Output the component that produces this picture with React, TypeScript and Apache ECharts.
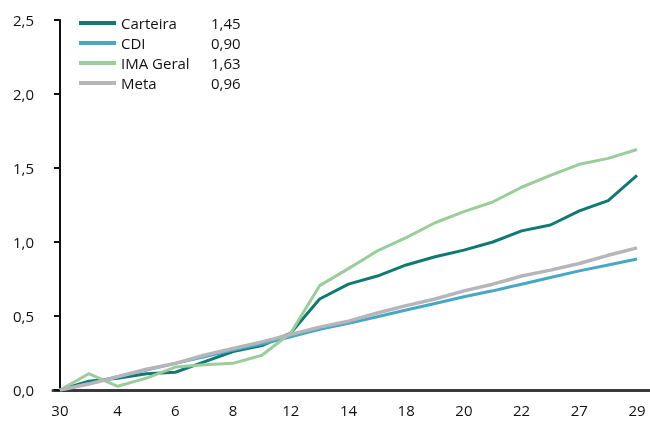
import React, { useEffect, useRef } from "react";
import * as echarts from "echarts";

const categories = ["30", "1", "4", "5", "6", "7", "8", "11", "12", "13", "14", "15", "18", "19", "20", "21", "22", "26", "27", "28", "29"];
const seriesNames = ["Carteira", "CDI", "IMA Geral", "Meta"];
const legendValues = ["1,45", "0,90", "1,63", "0,96"];
const colors = ["#0f7a72", "#46a8c4", "#9bcd9b", "#b5b5ba"];

const carteira = [0, 0.06, 0.08, 0.11, 0.12, 0.19, 0.26, 0.30, 0.385, 0.615, 0.715, 0.77, 0.845, 0.90, 0.945, 1.0, 1.075, 1.115, 1.21, 1.28, 1.45];
const cdi = [0, 0.045, 0.09, 0.135, 0.18, 0.225, 0.27, 0.31, 0.36, 0.41, 0.45, 0.495, 0.54, 0.585, 0.63, 0.67, 0.715, 0.76, 0.805, 0.845, 0.885];
const imaGeral = [0, 0.11, 0.025, 0.08, 0.155, 0.17, 0.18, 0.235, 0.385, 0.705, 0.82, 0.94, 1.03, 1.13, 1.205, 1.27, 1.37, 1.45, 1.525, 1.565, 1.625];
const meta = [0, 0.04, 0.09, 0.14, 0.18, 0.235, 0.28, 0.325, 0.375, 0.425, 0.465, 0.52, 0.57, 0.615, 0.67, 0.715, 0.77, 0.81, 0.855, 0.91, 0.96];

const xLabelIdx = [0, 2, 4, 6, 8, 10, 12, 14, 16, 18, 20];

const FONT = "Open Sans";
const FS = 15;
const TXT = "#111";

export default function App() {
  const ref = useRef<HTMLDivElement>(null);
  useEffect(() => {
    if (!ref.current) return;
    const chart = echarts.init(ref.current, null, { renderer: "svg" });
    const all = [carteira, cdi, imaGeral, meta];
    const widths = [3, 3, 3, 3.5];
    chart.setOption({
      animation: false,
      textStyle: { fontFamily: FONT },
      grid: { left: 53, right: 0, top: 20, bottom: 33, containLabel: false },
      legend: {
        orient: "vertical",
        left: 74,
        top: 8,
        itemWidth: 37,
        itemHeight: 4,
        itemGap: 0,
        icon: "rect",
        data: seriesNames,
        formatter: (name: string) => {
          const i = seriesNames.indexOf(name);
          return `{n|${name}}{v|${legendValues[i]}}`;
        },
        textStyle: {
          fontFamily: FONT,
          fontSize: FS,
          color: TXT,
          lineHeight: 20,
          rich: {
            n: { width: 90, fontSize: FS, lineHeight: 20, fontFamily: FONT, color: TXT },
            v: { fontSize: FS, lineHeight: 20, fontFamily: FONT, color: TXT },
          },
        },
      },
      xAxis: {
        type: "value",
        min: -0.24,
        max: 20.45,
        splitLine: { show: false },
        axisLine: { show: true, onZero: false, lineStyle: { color: "#3a3a3a", width: 3 } },
        axisTick: { show: false },
        axisLabel: {
          customValues: xLabelIdx,
          formatter: (v: number) => categories[Math.round(v)] ?? "",
          fontFamily: FONT,
          fontSize: FS,
          color: TXT,
          margin: 12,
          showMinLabel: true,
          showMaxLabel: true,
        },
      },
      yAxis: {
        type: "value",
        min: 0,
        max: 2.5,
        interval: 0.5,
        splitLine: { show: false },
        axisLine: { show: true, lineStyle: { color: "#111", width: 2 } },
        axisTick: { show: true, length: 6, inside: false, lineStyle: { color: "#111", width: 2 } },
        axisLabel: {
          formatter: (v: number) => v.toFixed(1).replace(".", ","),
          fontFamily: FONT,
          fontSize: FS,
          color: TXT,
          margin: 19,
        },
      },
      series: seriesNames.map((name, k) => ({
        name,
        type: "line",
        data: all[k].map((v, i) => [i, v]),
        showSymbol: false,
        symbol: "none",
        color: colors[k],
        lineStyle: { color: colors[k], width: widths[k] },
        itemStyle: { color: colors[k] },
        z: 2 + k,
      })),
    });
    return () => chart.dispose();
  }, []);
  return <div ref={ref} style={{ position: "fixed", left: 0, top: 0, width: 650, height: 423 }} />;
}
